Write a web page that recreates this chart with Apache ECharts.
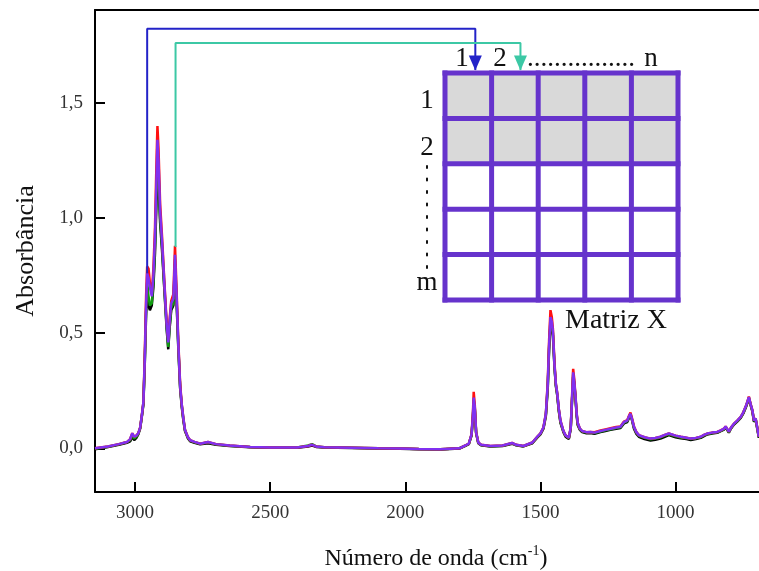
<!DOCTYPE html>
<html>
<head>
<meta charset="utf-8">
<script src="https://cdn.jsdelivr.net/npm/echarts@6/dist/echarts.min.js"></script>
<style>html,body{margin:0;padding:0;background:#fff;}#c{width:759px;height:571px;}</style>
</head>
<body>
<div id="c"></div>
<script>
// wavenumbers (cm-1)
var wavenumbers = [3148,3100,3060,3030,3018,3010,3003,2995,2988,2981,2975,2969,2964,2959,2955,2950,2945,2938,2932,2926,2921,2917,2913,2907,2900,2893,2887,2883,2877,2872,2866,2858,2852,2846,2840,2833,2827,2821,2815,2805,2796,2780,2759,2730,2700,2650,2574,2500,2400,2360,2345,2330,2300,2200,2100,2020,1950,1870,1800,1778,1765,1755,1750,1747,1743,1738,1730,1720,1685,1640,1605,1590,1563,1530,1512,1500,1489,1480,1473,1468,1463,1458,1454,1448,1443,1438,1432,1426,1415,1407,1395,1388,1383,1379,1375,1370,1366,1362,1354,1346,1330,1315,1300,1278,1260,1241,1220,1204,1191,1179,1172,1167,1162,1154,1145,1136,1115,1093,1075,1056,1040,1025,1000,981,960,944,925,907,895,883,865,846,833,821,815,809,803,795,784,772,759,750,741,735,729,722,716,710,704,698,692];

var purpleVals = [0.0,0.008,0.018,0.027,0.04,0.065,0.05,0.055,0.065,0.09,0.14,0.2,0.38,0.62,0.76,0.74,0.70,0.66,0.75,0.92,1.15,1.34,1.25,1.03,0.90,0.75,0.62,0.54,0.46,0.55,0.63,0.65,0.84,0.66,0.46,0.27,0.19,0.13,0.08,0.05,0.035,0.028,0.02,0.027,0.018,0.012,0.006,0.003,0.003,0.01,0.015,0.008,0.004,0.002,0.0,-0.001,-0.003,-0.004,0.0,0.012,0.02,0.06,0.14,0.22,0.18,0.07,0.025,0.015,0.01,0.012,0.023,0.015,0.01,0.025,0.05,0.065,0.09,0.15,0.28,0.45,0.57,0.55,0.51,0.36,0.28,0.24,0.17,0.12,0.075,0.056,0.046,0.09,0.22,0.33,0.29,0.22,0.15,0.11,0.085,0.075,0.07,0.071,0.068,0.075,0.08,0.085,0.09,0.093,0.114,0.12,0.14,0.15,0.13,0.093,0.07,0.057,0.048,0.042,0.045,0.05,0.058,0.064,0.055,0.05,0.046,0.042,0.045,0.05,0.058,0.064,0.068,0.071,0.078,0.085,0.095,0.1,0.072,0.09,0.107,0.12,0.136,0.155,0.18,0.2,0.222,0.19,0.165,0.12,0.13,0.136,0.05];

var redVals = [0.0,0.008,0.018,0.027,0.04,0.065,0.05,0.055,0.065,0.09,0.14,0.2,0.40,0.66,0.79,0.78,0.72,0.67,0.78,0.96,1.22,1.40,1.30,1.06,0.92,0.76,0.63,0.55,0.47,0.56,0.64,0.67,0.88,0.68,0.47,0.28,0.19,0.13,0.08,0.05,0.035,0.028,0.02,0.027,0.018,0.012,0.006,0.003,0.003,0.01,0.015,0.008,0.004,0.002,0.0,-0.001,-0.003,-0.004,0.0,0.012,0.02,0.06,0.15,0.245,0.19,0.07,0.025,0.015,0.01,0.012,0.023,0.015,0.01,0.025,0.05,0.065,0.09,0.15,0.29,0.47,0.60,0.57,0.52,0.37,0.28,0.24,0.17,0.12,0.075,0.056,0.046,0.09,0.23,0.345,0.30,0.22,0.15,0.11,0.085,0.075,0.07,0.071,0.07,0.077,0.082,0.087,0.092,0.095,0.116,0.122,0.142,0.155,0.133,0.095,0.07,0.057,0.048,0.042,0.045,0.05,0.058,0.064,0.055,0.05,0.046,0.042,0.045,0.05,0.058,0.064,0.068,0.071,0.078,0.085,0.095,0.1,0.072,0.09,0.107,0.12,0.136,0.155,0.18,0.2,0.225,0.19,0.165,0.12,0.13,0.136,0.05];

var blackVals = [-0.004,0.005,0.015,0.024,0.03,0.05,0.035,0.045,0.06,0.085,0.135,0.19,0.36,0.58,0.70,0.62,0.60,0.62,0.70,0.85,1.05,1.20,1.15,0.98,0.86,0.72,0.60,0.52,0.43,0.52,0.60,0.62,0.80,0.63,0.44,0.26,0.18,0.12,0.075,0.045,0.03,0.024,0.017,0.022,0.015,0.01,0.004,0.002,0.002,0.008,0.012,0.006,0.003,0.001,-0.001,-0.002,-0.004,-0.005,-0.001,0.01,0.018,0.055,0.13,0.2,0.17,0.065,0.022,0.013,0.008,0.01,0.02,0.013,0.008,0.022,0.046,0.06,0.085,0.14,0.26,0.43,0.54,0.52,0.49,0.35,0.27,0.23,0.16,0.11,0.07,0.05,0.04,0.085,0.21,0.31,0.28,0.21,0.14,0.1,0.08,0.07,0.065,0.066,0.063,0.07,0.075,0.08,0.085,0.088,0.108,0.114,0.134,0.145,0.125,0.085,0.062,0.05,0.04,0.034,0.037,0.042,0.05,0.057,0.048,0.043,0.04,0.036,0.04,0.045,0.053,0.06,0.064,0.067,0.074,0.081,0.091,0.096,0.068,0.086,0.103,0.116,0.132,0.15,0.175,0.195,0.215,0.185,0.16,0.115,0.125,0.13,0.045];

var greenVals = [-0.002,0.007,0.017,0.026,0.035,0.058,0.042,0.05,0.062,0.088,0.138,0.195,0.37,0.6,0.72,0.66,0.62,0.63,0.72,0.88,1.1,1.25,1.2,1.0,0.88,0.73,0.61,0.53,0.44,0.53,0.61,0.63,0.82,0.64,0.45,0.265,0.185,0.125,0.078,0.048,0.033,0.026,0.019,0.025,0.017,0.011,0.005,0.003,0.003,0.012,0.018,0.008,0.004,0.002,0.0,-0.001,-0.003,-0.004,0.0,0.011,0.019,0.058,0.135,0.21,0.175,0.068,0.024,0.014,0.009,0.011,0.022,0.014,0.009,0.024,0.048,0.063,0.088,0.145,0.27,0.44,0.555,0.535,0.5,0.355,0.275,0.235,0.165,0.115,0.073,0.054,0.044,0.088,0.215,0.32,0.285,0.215,0.145,0.105,0.083,0.073,0.068,0.069,0.066,0.073,0.078,0.083,0.088,0.091,0.111,0.118,0.138,0.148,0.128,0.09,0.067,0.054,0.045,0.039,0.042,0.047,0.055,0.061,0.052,0.047,0.044,0.04,0.043,0.048,0.056,0.062,0.066,0.069,0.076,0.083,0.093,0.098,0.07,0.088,0.105,0.118,0.134,0.153,0.178,0.198,0.22,0.188,0.163,0.118,0.128,0.134,0.048];

// annotation connectors (wavenumber, absorbance)
var blueConnector = [[2955,0.76],[2955,1.822],[1741,1.822],[1741,1.643]];
var tealConnector = [[2850,0.874],[2850,1.761],[1574,1.761],[1574,1.643]];

var xTicks = [3000,2500,2000,1500,1000];
var yTicks = [0,0.5,1.0,1.5];

function pairs(vals){ return wavenumbers.map(function(w,i){ return [w, vals[i]]; }); }
function connectorData(pts){
  return pts.map(function(p,i){
    if (i === pts.length-1) {
      return {value:p, symbol:'triangle', symbolSize:[13,15], symbolRotate:180, symbolOffset:[0,-7]};
    }
    return {value:p, symbol:'none'};
  });
}

var chart = echarts.init(document.getElementById('c'), null, {renderer:'canvas'});
var serif = 'Liberation Serif, Times New Roman, serif';

function spectrum(name, color, vals){
  return {name:name, type:'line', data:pairs(vals), symbol:'none', showSymbol:false,
    lineStyle:{color:color, width:2.5}, itemStyle:{color:color}, silent:true, animation:false, z:2};
}
function connector(name, color, pts){
  return {name:name, type:'line', data:connectorData(pts), showSymbol:true, symbol:'none',
    lineStyle:{color:color, width:2}, itemStyle:{color:color}, silent:true, animation:false, z:3};
}

// matrix inset geometry
var mx0 = 445, mx1 = 678, my0 = 73, my1 = 300;
var cols = 5, rows = 5;
var graphics = [];
graphics.push({type:'rect', shape:{x:mx0, y:my0, width:mx1-mx0, height:(my1-my0)*2/rows}, style:{fill:'#d9d9d9'}, z:100});
graphics.push({type:'rect', shape:{x:mx0, y:my0+(my1-my0)*2/rows, width:mx1-mx0, height:(my1-my0)*3/rows}, style:{fill:'#ffffff'}, z:100});
for (var i=0;i<=cols;i++){
  var gx = mx0 + (mx1-mx0)*i/cols;
  graphics.push({type:'line', shape:{x1:gx, y1:my0-2.5, x2:gx, y2:my1+2.5}, style:{stroke:'#6633cc', lineWidth:5}, z:101});
}
for (var j=0;j<=rows;j++){
  var gy = my0 + (my1-my0)*j/rows;
  graphics.push({type:'line', shape:{x1:mx0-2.5, y1:gy, x2:mx1+2.5, y2:gy}, style:{stroke:'#6633cc', lineWidth:5}, z:101});
}
// text placed by baseline (approx: middle = baseline - 0.35*size)
function txt(t, x, baseline, size, align){
  return {type:'text', x:x, y:baseline - 0.35*size, style:{text:t, font:size+'px '+serif, fill:'#111', align:align||'center', verticalAlign:'middle'}, z:102};
}
graphics.push(txt('1', 462, 68, 27));
graphics.push(txt('2', 500, 68, 27));
graphics.push(txt('................', 527, 68, 27, 'left'));
graphics.push(txt('n', 651, 68, 27));
graphics.push(txt('1', 427, 110, 27));
graphics.push(txt('2', 427, 157, 27));
graphics.push({type:'line', shape:{x1:427, y1:166, x2:427, y2:270}, style:{stroke:'#111', lineWidth:2, lineDash:[2,10.5], lineCap:'round'}, z:102});
graphics.push(txt('m', 427, 292, 27));
graphics.push(txt('Matriz X', 565, 330, 28, 'left'));

var option = {
  animation:false,
  backgroundColor:'#fff',
  grid:{left:95, right:0, top:10, bottom:79, containLabel:false, outerBoundsMode:'none'},
  xAxis:[{
    type:'value', inverse:true, min:691.5, max:3148, position:'bottom',
    axisLine:{show:true, onZero:false, lineStyle:{color:'#000', width:2}},
    axisTick:{show:true, inside:true, length:10, lineStyle:{color:'#000', width:2}, customValues:xTicks},
    axisLabel:{show:true, margin:12, color:'#333', fontFamily:serif, fontSize:19, customValues:xTicks,
      formatter:function(v){ return String(Math.round(v)); }},
    splitLine:{show:false},
    name:'Número de onda (cm{sup|-1})', nameLocation:'middle', nameGap:52, nameMoveOverlap:false,
    nameTextStyle:{color:'#111', fontFamily:serif, fontSize:24, lineHeight:30, padding:[0,0,0,18],
      rich:{sup:{fontFamily:serif, fontSize:14, verticalAlign:'top', lineHeight:16, color:'#111'}}}
  },{
    type:'value', inverse:true, min:691.5, max:3148, position:'top',
    axisLine:{show:true, onZero:false, lineStyle:{color:'#000', width:2}},
    axisTick:{show:false}, axisLabel:{show:false}, splitLine:{show:false}
  }],
  yAxis:{
    type:'value', min:-0.19, max:1.904,
    axisLine:{show:true, onZero:false, lineStyle:{color:'#000', width:2}},
    axisTick:{show:true, inside:true, length:10, lineStyle:{color:'#000', width:2}, customValues:yTicks},
    axisLabel:{show:true, margin:12, color:'#333', fontFamily:serif, fontSize:19, customValues:yTicks,
      formatter:function(v){ return v.toFixed(1).replace('.', ','); }},
    splitLine:{show:false},
    name:'Absorbância', nameLocation:'middle', nameGap:56, nameRotate:90, nameMoveOverlap:false,
    nameTextStyle:{color:'#111', fontFamily:serif, fontSize:26}
  },
  series:[
    spectrum('black','#000000', blackVals),
    spectrum('green','#109a10', greenVals),
    spectrum('red','#ff1010', redVals),
    spectrum('purple','#8030f0', purpleVals),
    connector('blue','#2323c8', blueConnector),
    connector('teal','#3cc8a5', tealConnector)
  ],
  graphic:graphics
};
chart.setOption(option);
</script>
</body>
</html>
